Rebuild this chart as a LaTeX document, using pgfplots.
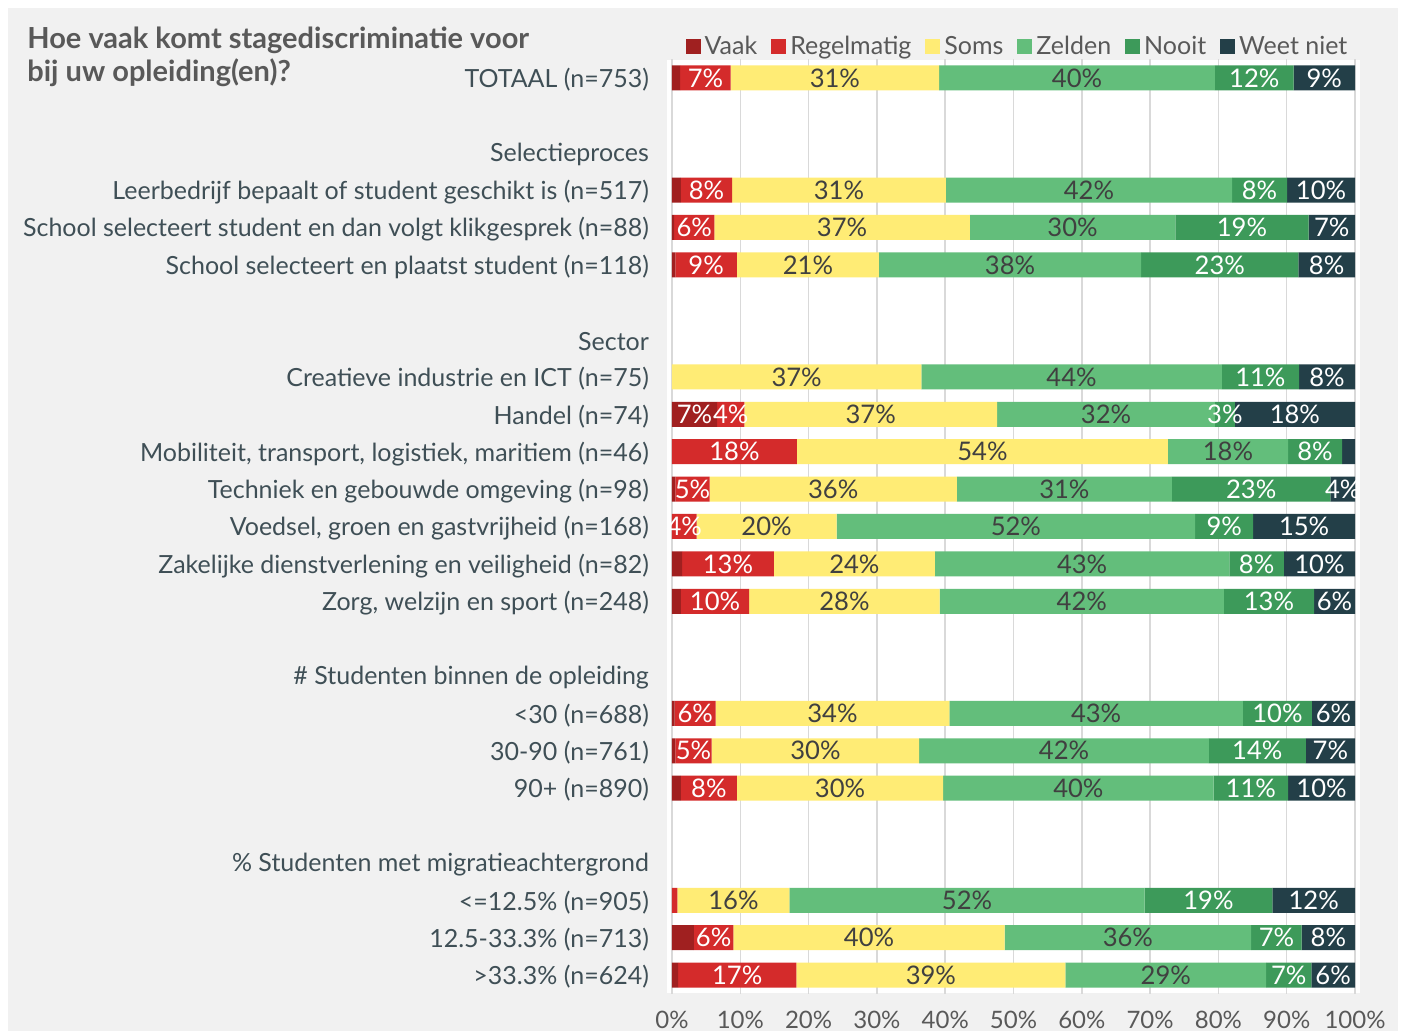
\documentclass[border=0pt]{standalone}
\usepackage{pgfplots}
\pgfplotsset{compat=1.18}
\usepackage{pgfplotstable}
\usepackage{fontspec}
\setmainfont{Lato}
\definecolor{cVaak}{HTML}{A02020}
\definecolor{cRegel}{HTML}{D42B2B}
\definecolor{cSoms}{HTML}{FFEC75}
\definecolor{cZelden}{HTML}{63BE7B}
\definecolor{cNooit}{HTML}{3D9A5A}
\definecolor{cWeet}{HTML}{233F48}
\definecolor{bggray}{HTML}{F1F1F1}
\definecolor{gridgray}{HTML}{D9D9D9}
\definecolor{labtext}{HTML}{3F4F56}
\definecolor{titletext}{HTML}{595959}
\definecolor{darklab}{HTML}{404040}

\pgfplotstableread{
y v1 v2 v3 v4 v5 v6 l1 l2 l3 l4 l5 l6
0 1.2 7.4 30.5 40.4 11.5 9.0 0 7 31 40 12 9
3 1.3 7.5 31.3 41.9 8.05 9.95 0 8 31 42 8 10
4 0.3 5.9 37.4 30.1 19.5 6.8 0 6 37 30 19 7
5 0.5 9.0 20.8 38.4 23.0 8.3 0 9 21 38 23 8
8 0 0 36.5 44.0 11.3 8.2 0 0 37 44 11 8
9 6.6 4.0 37.0 31.9 2.9 17.6 7 4 37 32 3 18
10 0 18.3 54.3 17.6 7.9 1.9 0 18 54 18 8 0
11 0.5 5.0 36.2 31.5 23.2 3.6 0 5 36 31 23 4
12 0 3.6 20.5 52.5 8.5 14.9 0 4 20 52 9 15
13 1.5 13.4 23.6 43.1 8.0 10.4 0 13 24 43 8 10
14 1.3 10.0 27.9 41.6 13.2 6.0 0 10 28 42 13 6
17 0.4 6.0 34.2 43.0 10.1 6.3 0 6 34 43 10 6
18 0.5 5.3 30.4 42.4 14.2 7.2 0 5 30 42 14 7
19 1.3 8.2 30.2 39.6 10.9 9.8 0 8 30 40 11 10
22 0 0.8 16.4 52.0 18.7 12.1 0 0 16 52 19 12
23 3.2 5.8 39.7 36.1 7.4 7.8 0 6 40 36 7 8
24 0.9 17.3 39.4 29.4 6.6 6.4 0 17 39 29 7 6
}\data

\pgfplotsset{
  seg/.style n args={2}{
    fill=#1, draw=none,
    point meta=explicit symbolic,
    nodes near coords={\ifnum\pgfplotspointmeta=0 \else\pgfplotspointmeta\%\fi},
    nodes near coords style={anchor=center, text=#2, inner sep=0pt,
      font=\fontsize{12.8}{14}\selectfont},
  },
}

\begin{document}
\begin{tikzpicture}
\useasboundingbox (0pt,0pt) rectangle (701pt,515.5pt);
\fill[bggray] (4pt,0pt) rectangle (699pt,511.5pt);
\fill[white] (333.5pt,19pt) rectangle (680pt,485.5pt);
\node[anchor=north west, inner sep=0pt, align=left, text=titletext,
  font=\fontsize{14.5}{16.5}\selectfont\bfseries] at (13.5pt,502pt)
  {Hoe vaak komt stagediscriminatie voor\\bij uw opleiding(en)?};
\begin{axis}[
  at={(336pt,18.65pt)}, anchor=south west,
  scale only axis, width=341.5pt, height=467.2pt,
  xbar stacked, bar width=12.5pt,
  xmin=0, xmax=100, ymin=-0.5, ymax=24.5, y dir=reverse,
  axis line style={draw=none},
  major tick length=0pt, tick style={draw=none},
  xmajorgrids, grid style={gridgray, line width=0.75pt},
  xtick={0,10,...,100},
  xticklabel={\pgfmathprintnumber[assume math mode=true]{\tick}\%},
  xticklabel style={font=\fontsize{12}{14}\selectfont, text=titletext, yshift=-5pt},
  ytick={0,...,24},
  yticklabels={TOTAAL (n=753),{},Selectieproces,Leerbedrijf bepaalt of student geschikt is (n=517),School selecteert student en dan volgt klikgesprek (n=88),School selecteert en plaatst student (n=118),{},Sector,Creatieve industrie en ICT (n=75),Handel (n=74),{Mobiliteit, transport, logistiek, maritiem (n=46)},Techniek en gebouwde omgeving (n=98),{Voedsel, groen en gastvrijheid (n=168)},Zakelijke dienstverlening en veiligheid (n=82),{Zorg, welzijn en sport (n=248)},{},\# Studenten binnen de opleiding,<30 (n=688),30-90 (n=761),90+ (n=890),{},\% Studenten met migratieachtergrond,<=12.5\% (n=905),12.5-33.3\% (n=713),>33.3\% (n=624)},
  yticklabel style={font=\fontsize{12.5}{14}\selectfont, text=labtext, xshift=-8pt, yshift=-1pt},
  legend style={at={(0.5,1)}, anchor=south, draw=none, fill=none,
    legend columns=6, font=\fontsize{12.5}{14}\selectfont, text=titletext,
    inner sep=0pt, yshift=-1.5pt, xshift=2.5pt,
    /tikz/every even column/.append style={column sep=5pt}},
  legend image code/.code={\fill[#1] (0pt,-3.5pt) rectangle (7.5pt,4pt);},
]
\addplot[seg={cVaak}{white}] table[x=v1,y=y,meta=l1]{\data};
\addlegendentry{Vaak}
\addplot[seg={cRegel}{white}] table[x=v2,y=y,meta=l2]{\data};
\addlegendentry{Regelmatig}
\addplot[seg={cSoms}{darklab}] table[x=v3,y=y,meta=l3]{\data};
\addlegendentry{Soms}
\addplot[seg={cZelden}{darklab}] table[x=v4,y=y,meta=l4]{\data};
\addlegendentry{Zelden}
\addplot[seg={cNooit}{white}] table[x=v5,y=y,meta=l5]{\data};
\addlegendentry{Nooit}
\addplot[seg={cWeet}{white}] table[x=v6,y=y,meta=l6]{\data};
\addlegendentry{Weet niet}
\end{axis}
\end{tikzpicture}
\end{document}
